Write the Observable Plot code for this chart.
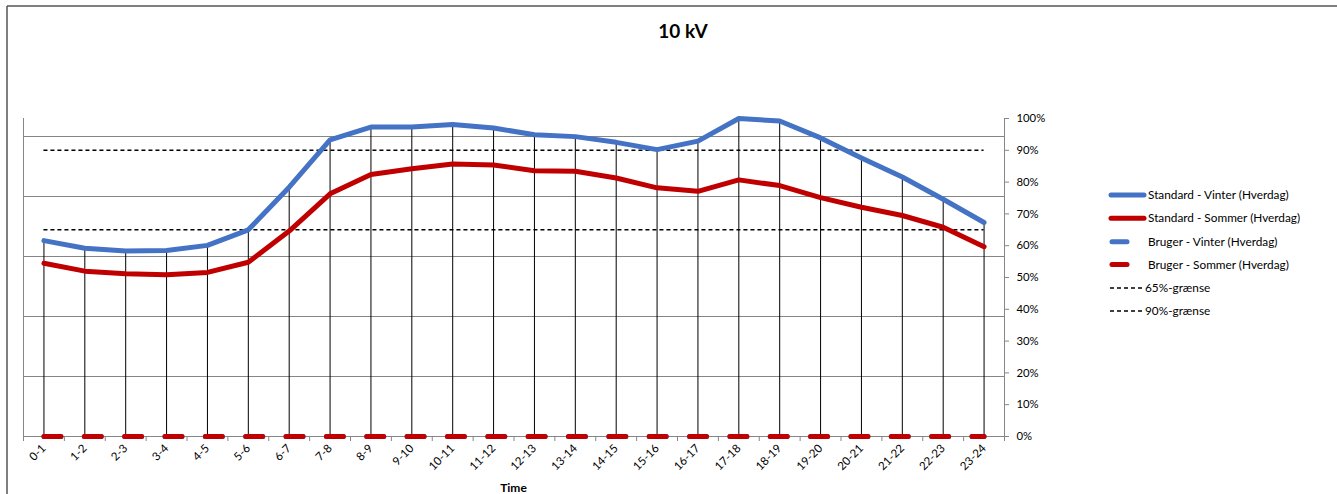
<!DOCTYPE html>
<html>
<head>
<meta charset="utf-8">
<script src="https://cdn.jsdelivr.net/npm/d3@7"></script>
<script src="https://cdn.jsdelivr.net/npm/@observablehq/plot@0.6"></script>
<style>
  html, body { margin: 0; padding: 0; background: #fff; }
  #chart { position: relative; width: 1337px; height: 494px; }
</style>
</head>
<body>
<div id="chart"></div>
<script>
const categories = ["0-1","1-2","2-3","3-4","4-5","5-6","6-7","7-8","8-9","9-10","10-11","11-12","12-13","13-14","14-15","15-16","16-17","17-18","18-19","19-20","20-21","21-22","22-23","23-24"];
const standardVinter = [61.6, 59.2, 58.3, 58.5, 60.1, 65.0, 78.4, 93.3, 97.3, 97.3, 98.1, 97.0, 94.9, 94.3, 92.5, 90.2, 92.9, 100, 99.2, 93.9, 87.6, 81.6, 74.6, 67.3];
const standardSommer = [54.5, 52.0, 51.2, 50.9, 51.6, 54.8, 64.6, 76.3, 82.4, 84.2, 85.7, 85.4, 83.6, 83.4, 81.3, 78.2, 77.1, 80.7, 78.9, 75.1, 72.1, 69.5, 65.8, 59.7];
const brugerVinter = [0,0,0,0,0,0,0,0,0,0,0,0,0,0,0,0,0,0,0,0,0,0,0,0];
const brugerSommer = [0,0,0,0,0,0,0,0,0,0,0,0,0,0,0,0,0,0,0,0,0,0,0,0];
const limits = [65, 90];
const yTicks = [0,10,20,30,40,50,60,70,80,90,100];
// hidden primary axis (gridlines only)
const primaryGrid = [1,2,3,4,5];
const primaryMax = 5.3;

const title = "10 kV";
const xTitle = "Time";
const legendItems = [
  {label: "Standard - Vinter (Hverdag)", color: "#4472C4", kind: "solid"},
  {label: "Standard - Sommer (Hverdag)", color: "#C00000", kind: "solid"},
  {label: "Bruger - Vinter (Hverdag)", color: "#4472C4", kind: "short"},
  {label: "Bruger - Sommer (Hverdag)", color: "#C00000", kind: "short"},
  {label: "65%-grænse", color: "#000", kind: "dash"},
  {label: "90%-grænse", color: "#000", kind: "dash"}
];

const rows = categories.map((c, i) => ({
  cat: c, xi: i + 0.5,
  sv: standardVinter[i], ss: standardSommer[i],
  bv: brugerVinter[i], bs: brugerSommer[i]
}));
const n = categories.length;
const gridVals = primaryGrid.map(g => g / primaryMax * 100);
const FONT = "Lato, 'Open Sans', sans-serif";

const svg = Plot.plot({
  width: 1337,
  height: 494,
  marginLeft: 23,
  marginRight: 333,
  marginTop: 118,
  marginBottom: 58,
  style: {fontFamily: FONT, fontSize: "11px", color: "#000", background: "#fff"},
  x: {type: "linear", domain: [0, n], axis: null},
  y: {domain: [0, 100], axis: null},
  marks: [
    Plot.ruleY(gridVals, {stroke: "#868686", strokeWidth: 1}),
    Plot.ruleX([0, n], {stroke: "#868686", strokeWidth: 1}),
    Plot.ruleY([0], {stroke: "#868686", strokeWidth: 1}),
    Plot.axisX({ticks: d3.range(n + 1), tickFormat: () => "", tickSize: 5, stroke: "#868686", label: null}),
    Plot.axisX({ticks: rows.map(d => d.xi), tickFormat: d => categories[Math.round(d - 0.5)], tickSize: 0, tickPadding: 10, tickRotate: -45, fontSize: 11.5, fill: "#000", label: null}),
    Plot.axisY({anchor: "right", ticks: yTicks, tickFormat: d => d + "%", tickSize: 4, tickPadding: 8, stroke: "#868686", fill: "#000", fontSize: 11.3, label: null}),
    Plot.ruleX(rows, {x: "xi", y1: 0, y2: d => Math.max(d.sv, d.ss), stroke: "#000", strokeWidth: 1}),
    Plot.ruleY(limits, {x1: 0.5, x2: n - 0.5, stroke: "#000", strokeWidth: 1.5, strokeDasharray: "4,3"}),
    Plot.line(rows, {x: "xi", y: "sv", stroke: "#4472C4", strokeWidth: 5, strokeLinejoin: "round", strokeLinecap: "round"}),
    Plot.line(rows, {x: "xi", y: "ss", stroke: "#C00000", strokeWidth: 5, strokeLinejoin: "round", strokeLinecap: "round"}),
    Plot.line(rows, {x: "xi", y: "bv", stroke: "#4472C4", strokeWidth: 5, strokeLinecap: "round", strokeDasharray: "17,23.35"}),
    Plot.line(rows, {x: "xi", y: "bs", stroke: "#C00000", strokeWidth: 5, strokeLinecap: "round", strokeDasharray: "17,23.35"})
  ]
});

document.getElementById("chart").appendChild(svg);

const s = d3.select(svg);
// outer chart border (top and left)
s.append("line").attr("x1", 7).attr("x2", 1337).attr("y1", 6).attr("y2", 6).attr("stroke", "#555").attr("stroke-width", 1.5);
s.append("line").attr("x1", 7).attr("x2", 7).attr("y1", 6).attr("y2", 494).attr("stroke", "#555").attr("stroke-width", 1.5);
// title
s.append("text").attr("x", 683).attr("y", 38).attr("text-anchor", "middle")
  .attr("font-family", FONT).attr("font-weight", "bold").attr("font-size", 19).attr("fill", "#000").text(title);
// x title
s.append("text").attr("x", 513.5).attr("y", 491.5).attr("text-anchor", "middle")
  .attr("font-family", FONT).attr("font-weight", "bold").attr("font-size", 12).attr("fill", "#000").text(xTitle);
// legend
const legendY = [195, 218.3, 241.7, 264.5, 288, 311];
const lg = s.append("g").attr("text-anchor", "start");
legendItems.forEach((it, i) => {
  const y = legendY[i];
  if (it.kind === "solid") {
    lg.append("line").attr("x1", 1111).attr("x2", 1144).attr("y1", y).attr("y2", y)
      .attr("stroke", it.color).attr("stroke-width", 5).attr("stroke-linecap", "round");
  } else if (it.kind === "short") {
    lg.append("line").attr("x1", 1112).attr("x2", 1127).attr("y1", y).attr("y2", y)
      .attr("stroke", it.color).attr("stroke-width", 5).attr("stroke-linecap", "round");
  } else {
    lg.append("line").attr("x1", 1110).attr("x2", 1144).attr("y1", y).attr("y2", y)
      .attr("stroke", it.color).attr("stroke-width", 1.5).attr("stroke-dasharray", "4,3");
  }
  lg.append("text").attr("x", it.kind === "dash" ? 1145 : 1148).attr("y", y).attr("dy", "0.35em")
    .attr("text-anchor", "start")
    .attr("font-family", FONT).attr("font-size", 11.8).attr("fill", "#000").text(it.label);
});
</script>
</body>
</html>
